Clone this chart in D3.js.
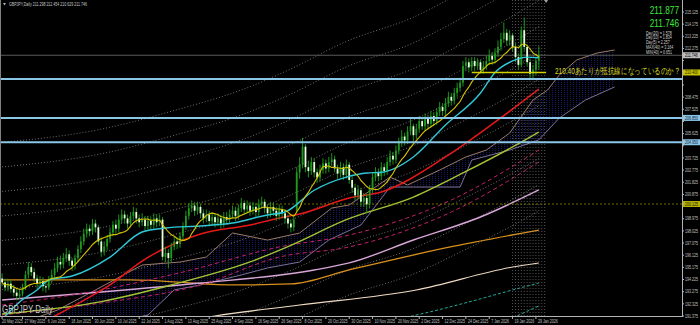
<!DOCTYPE html>
<html>
<head>
<meta charset="utf-8">
<script src="https://cdn.jsdelivr.net/npm/d3@7"></script>
<style>
  html, body { margin: 0; padding: 0; background: #000; }
  svg { display: block; }
  text { font-family: 'Liberation Sans', Arial, sans-serif; }
</style>
</head>
<body>
<svg width="700" height="325"></svg>
<script>
// daily candles, 16 May 2025 .. 30 Jan 2026 (bar index 0..184)
const opens = [
  194.30,194.00,193.60,193.90,193.50,193.20,192.95,193.10,193.60,194.60,
  195.20,194.80,194.30,193.90,194.10,193.70,193.60,194.20,194.60,195.10,
  195.60,195.40,195.90,196.20,195.70,195.30,195.90,196.60,197.20,197.80,
  198.20,198.00,198.60,198.30,197.20,196.40,196.80,197.40,197.90,198.50,
  198.20,198.90,199.30,199.00,198.60,199.20,199.50,199.00,198.70,198.90,
  198.40,198.80,198.50,199.00,198.70,198.90,196.00,196.30,195.90,196.80,
  197.20,197.00,197.60,198.40,199.20,199.80,200.00,199.60,199.90,199.40,
  199.00,199.30,198.80,199.10,198.70,199.00,198.60,199.10,198.90,199.30,
  199.60,199.20,199.80,200.20,199.70,200.00,199.60,199.90,199.50,200.10,
  200.30,199.80,199.40,199.90,199.60,199.20,199.70,199.40,199.00,198.60,
  198.30,199.60,202.60,203.20,204.60,203.00,202.70,203.40,202.60,202.20,
  202.80,203.30,202.90,203.40,203.60,202.90,202.50,203.00,202.40,203.20,
  202.00,201.40,200.80,201.20,200.30,200.60,200.10,201.30,202.20,202.60,
  202.30,203.00,202.70,203.40,203.90,203.60,204.30,204.90,205.40,205.10,
  205.80,206.20,205.50,206.00,206.60,206.20,206.80,206.40,207.00,206.60,
  207.30,207.70,207.40,208.00,208.50,208.20,208.80,209.20,209.60,210.90,
  211.20,210.80,211.30,210.90,211.20,210.60,210.90,211.30,211.70,211.40,
  211.90,212.40,213.00,213.50,212.90,213.30,212.40,211.60,211.00,213.70,
  212.40,211.20,210.30,210.60,211.298
];
const highs = [
  194.70,194.30,194.30,194.20,193.80,193.50,193.50,193.90,194.90,195.60,
  195.50,195.10,194.60,194.50,194.40,194.10,194.50,195.00,195.50,196.00,
  196.10,196.30,196.70,196.50,195.90,196.20,196.90,197.60,198.20,198.60,
  198.50,198.95,198.90,198.50,197.50,197.20,197.70,198.30,198.80,198.90,
  199.30,199.70,199.60,199.30,199.50,199.90,199.80,199.30,199.40,199.20,
  199.20,199.10,199.40,199.30,199.30,199.10,196.80,196.60,197.10,197.60,
  197.50,197.90,198.70,199.60,200.20,200.40,200.30,200.30,200.10,199.70,
  199.70,199.60,199.50,199.40,199.40,199.30,199.50,199.50,199.70,200.00,
  199.90,200.10,200.60,200.40,200.40,200.30,200.30,200.20,200.50,200.70,
  200.50,200.10,200.30,200.20,199.90,200.10,200.00,199.70,199.30,198.90,
  199.30,203.00,203.80,205.30,204.80,203.50,203.80,203.70,202.90,203.20,
  203.70,203.60,203.80,204.10,203.90,203.20,203.40,203.30,203.60,203.40,
  202.30,201.70,201.60,201.40,201.00,200.90,201.60,202.60,203.00,202.90,
  203.40,203.30,203.80,204.30,204.20,204.70,205.30,205.90,205.70,206.20,
  206.90,206.40,206.40,207.00,206.90,207.20,207.10,207.40,207.30,207.60,
  208.10,208.00,208.40,208.90,208.80,209.20,209.60,210.00,211.30,211.60,
  211.50,211.60,211.60,211.50,211.40,211.30,211.70,212.20,212.00,212.30,
  212.90,213.50,214.30,213.80,213.70,213.50,212.70,211.90,214.00,214.70,
  212.60,211.50,211.00,211.60,212.454
];
const lows = [
  193.70,193.30,193.30,193.20,192.90,192.60,192.70,192.90,193.40,194.30,
  194.50,194.00,193.50,193.60,193.30,193.20,193.40,193.90,194.30,194.80,
  195.00,195.10,195.60,195.30,194.90,195.00,195.60,196.30,196.90,197.50,
  197.60,197.70,197.90,196.90,196.00,196.10,196.50,197.10,197.60,197.80,
  197.90,198.60,198.60,198.20,198.30,198.90,198.60,198.30,198.40,198.00,
  198.10,198.10,198.20,198.30,198.40,195.70,195.60,195.10,195.60,196.50,
  196.60,196.70,197.30,198.10,198.90,199.50,199.20,199.30,199.00,198.60,
  198.70,198.40,198.50,198.30,198.40,198.20,198.30,198.50,198.60,199.00,
  198.80,198.90,199.50,199.30,199.40,199.20,199.30,199.10,199.20,199.80,
  199.40,199.00,199.10,199.20,198.80,198.90,199.00,198.60,198.20,197.90,
  198.00,199.40,202.10,202.90,202.60,202.20,202.40,202.20,201.80,201.90,
  202.50,202.50,202.60,203.10,202.60,202.10,202.20,202.00,202.10,201.70,
  201.00,200.40,200.50,199.90,199.90,199.40,199.80,201.00,201.90,201.90,
  202.00,202.30,202.40,203.10,203.20,203.30,204.00,204.60,204.70,204.80,
  205.50,205.00,205.20,205.70,205.90,205.90,206.00,206.10,206.20,206.30,
  207.00,207.00,207.10,207.70,207.80,207.90,208.50,208.90,209.30,210.50,
  210.40,210.50,210.50,210.60,210.30,210.30,210.60,211.00,211.00,211.10,
  211.60,212.10,212.70,212.50,212.50,212.00,211.20,210.60,210.80,212.10,
  210.90,209.80,209.90,210.20,210.629
];
const closes = [
  194.00,193.60,193.90,193.50,193.20,192.95,193.10,193.60,194.60,195.20,
  194.80,194.30,193.90,194.10,193.70,193.60,194.20,194.60,195.10,195.60,
  195.40,195.90,196.20,195.70,195.30,195.90,196.60,197.20,197.80,198.20,
  198.00,198.60,198.30,197.20,196.40,196.80,197.40,197.90,198.50,198.20,
  198.90,199.30,199.00,198.60,199.20,199.50,199.00,198.70,198.90,198.40,
  198.80,198.50,199.00,198.70,198.90,196.00,196.30,195.90,196.80,197.20,
  197.00,197.60,198.40,199.20,199.80,200.00,199.60,199.90,199.40,199.00,
  199.30,198.80,199.10,198.70,199.00,198.60,199.10,198.90,199.30,199.60,
  199.20,199.80,200.20,199.70,200.00,199.60,199.90,199.50,200.10,200.30,
  199.80,199.40,199.90,199.60,199.20,199.70,199.40,199.00,198.60,198.30,
  198.90,202.60,203.20,204.60,203.00,202.70,203.40,202.60,202.20,202.80,
  203.30,202.90,203.40,203.60,202.90,202.50,203.00,202.40,203.20,202.00,
  201.40,200.80,201.20,200.30,200.60,200.10,201.30,202.20,202.60,202.30,
  203.00,202.70,203.40,203.90,203.60,204.30,204.90,205.40,205.10,205.80,
  206.20,205.50,206.00,206.60,206.20,206.80,206.40,207.00,206.60,207.30,
  207.70,207.40,208.00,208.50,208.20,208.80,209.20,209.60,210.90,211.20,
  210.80,211.30,210.90,211.20,210.60,210.90,211.30,211.70,211.40,211.90,
  212.40,213.00,213.50,212.90,213.30,212.40,211.60,211.00,213.70,212.40,
  211.20,210.30,210.60,211.30,211.746
];

// indicator lines: [bar index, price]
const maCyan = [[0,191.1],[6,192.47],[12,193.41],[16,194.19],[24,194.5],[37,195.98],[48,197.94],[56,198.25],[68,198.41],[79,198.64],[91,199.27],[97,199.5],[107,201.2],[118,202.23],[125,202.55],[130,202.6],[141,203.8],[152,206.3],[164,208.8],[169,210.4],[175,211.3],[180,211.6],[184,211.55]];
const maRed = [[14,190.9],[28,192.6],[37,193.8],[48,195.67],[68,197.78],[85,198.48],[95,199.03],[102,199.34],[119,200.59],[130,201.06],[152,203.8],[170,206.69],[184,209.1]];
const maOlive = [[0,191.53],[34,192.5],[58,193.8],[85,195.6],[99,196.9],[118,198.9],[141,200.67],[158,202.55],[175,204.58],[184,205.75]];
const maPlum = [[0,192.63],[34,193.25],[68,193.95],[107,194.97],[119,195.52],[141,197.31],[164,199.11],[184,201.22]];
const maOrange = [[0,194.19],[44,194.19],[79,193.8],[99,193.88],[119,194.97],[152,196.69],[184,198.09]];
const maCream = [[61,190.9],[73,191.38],[102,192.23],[142,193.41],[175,195.2],[184,195.52]];
const tealUpper = [[130,190.9],[139,191.3],[160,192.47],[175,193.41],[184,193.95]];
const tealLower = [[172,190.9],[176.5,191.38],[184,192.16]];
const magentaA = [[0,192.23],[34,193.41],[62,194.81],[95,196.77],[119,197.7],[154,200.44],[184,204.34]];
const magentaB = [[0,191.45],[34,192.39],[68,193.8],[95,195.98],[119,196.77],[154,199.5],[184,203.41]];
const spanA = [[0,190.28],[19,191.84],[32,193.41],[48,195.36],[61,195.59],[70,195.98],[79,197.86],[91,197.31],[102,197.86],[113,199.81],[119,200.05],[133,202.23],[139,201.61],[150,202.78],[159,203.8],[166,204.34],[174,205.67],[182,208.25],[187,209.03],[191,210.2],[197,211.38],[204,211.92],[210,212.16]];
const spanB = [[0,189.89],[34,190.67],[50,191.45],[59,193.41],[68,193.8],[82,194.58],[91,195.13],[102,195.59],[112,197.31],[123,198.48],[133,201.45],[157,201.45],[161,203.56],[174,204.34],[184,205.13],[191,206.84],[200,208.25],[210,209.27]];
const envelopePct = [-3, -2, -1, 1, 2, 3, 4, 5, 6, 7]; // around the olive MA
const yellowPeriod = 10;

// horizontal objects
const blueLevels = [209.90, 206.85, 204.95];
const resistance = 210.40;
const resistanceSpan = [161, 186.5];
const prevLevel = 200.125;
const bid = 211.746;
const ask = 211.877;
const gridBars = [175, 186];

const priceTicks = [191.375,192.325,193.275,194.225,195.175,196.125,197.075,198.025,198.975,199.925,200.875,201.825,202.775,203.725,204.675,205.625,206.575,207.525,208.475,209.425,210.375,211.325,212.275,213.225,214.175,215.125];
const dateTickIdx = [0,7,15,23,31,39,47,55,63,71,79,87,95,103,111,119,127,135,143,151,159,167,175,183];
const dateTickLabels = ['20 May 2025','27 May 2025','6 Jun 2025','18 Jun 2025','30 Jun 2025','10 Jul 2025','22 Jul 2025','1 Aug 2025','13 Aug 2025','25 Aug 2025','4 Sep 2025','16 Sep 2025','26 Sep 2025','8 Oct 2025','20 Oct 2025','30 Oct 2025','10 Nov 2025','20 Nov 2025','2 Dec 2025','12 Dec 2025','24 Dec 2025','7 Jan 2026','19 Jan 2026','29 Jan 2026'];
const statLines = ['Day(20) = 1.578','Day(10) = 1.834','Day(5) = 2.257','MAX(40) = 3.164','MIN(40) = 0.651'];
const headerText = 'GBPJPY,Daily  211.298 212.454 210.629 211.746';

const svg = d3.select('svg');
const width = +svg.attr('width');
const height = +svg.attr('height');
const plotW = 682, plotH = 316;
const barStep = 2.917;
const squeeze = 0.72; // screenshot text is horizontally condensed

const xScale = d3.scaleLinear().domain([0, 184]).range([2.1, 2.1 + 184 * barStep]);
const yScale = d3.scaleLinear().domain([191.375, 216.0625]).range([plotH, 0]);

svg.append('rect').attr('width', width).attr('height', height).attr('fill', '#000');

const defs = svg.append('defs');
defs.append('clipPath').attr('id', 'plot-clip')
    .append('rect').attr('width', plotW).attr('height', plotH);
const hatch = defs.append('pattern')
    .attr('id', 'cloud-hatch')
    .attr('patternUnits', 'userSpaceOnUse')
    .attr('width', 3).attr('height', 2);
hatch.append('rect').attr('width', 1).attr('height', 1).attr('fill', '#181866');

const g = svg.append('g').attr('clip-path', 'url(#plot-clip)');

const kpLine = d3.line()
    .x((d) => xScale(d[0]))
    .y((d) => yScale(d[1]))
    .curve(d3.curveMonotoneX);

const drawLine = (pts, color, w, dash) => {
    g.append('path')
        .attr('d', kpLine(pts))
        .attr('fill', 'none')
        .attr('stroke', color)
        .attr('stroke-width', w)
        .attr('stroke-dasharray', dash || null);
};

// ichimoku cloud
const polyLine = d3.line().x((d) => xScale(d[0])).y((d) => yScale(d[1]));
g.append('path')
    .attr('d', polyLine(spanA.concat(spanB.slice().reverse())) + 'Z')
    .attr('fill', 'url(#cloud-hatch)');
g.append('path').attr('d', polyLine(spanA)).attr('fill', 'none').attr('stroke', '#9a7a68').attr('stroke-width', 1);
g.append('path').attr('d', polyLine(spanB)).attr('fill', 'none').attr('stroke', '#7e7098').attr('stroke-width', 1);

// envelopes
envelopePct.forEach((p) => {
    drawLine(maOlive.map((d) => [d[0], d[1] * (1 + p / 100)]), '#8a8a8a', 0.8, '1,2');
});

drawLine(maCream, '#f0dcc4', 1.1);
drawLine(maOrange, '#d8901c', 1.3);
drawLine(maPlum, '#d8a6d8', 1.4);
drawLine(tealUpper, '#22a896', 1, '3,2');
drawLine(tealLower, '#22a896', 1, '3,2');
drawLine(magentaA, '#c2206c', 1, '4,3');
drawLine(magentaB, '#c2206c', 1, '4,3');
drawLine(maOlive, '#a4c434', 1.4);
drawLine(maRed, '#e81818', 1.5);

// horizontal helper lines
g.append('line')
    .attr('x1', 0).attr('x2', plotW)
    .attr('y1', yScale(prevLevel)).attr('y2', yScale(prevLevel))
    .attr('stroke', '#8c8c00').attr('stroke-width', 0.8).attr('stroke-dasharray', '2,2');
g.append('line')
    .attr('x1', 0).attr('x2', plotW)
    .attr('y1', yScale(bid)).attr('y2', yScale(bid))
    .attr('stroke', '#707070').attr('stroke-width', 0.8);

// vertical dotted grid over the last bars
g.selectAll('line.vgrid')
    .data(d3.range(gridBars[0], gridBars[1] + 1))
    .enter().append('line')
    .attr('class', 'vgrid')
    .attr('x1', (d) => xScale(d)).attr('x2', (d) => xScale(d))
    .attr('y1', 0).attr('y2', plotH)
    .attr('stroke', '#8c8c8c').attr('stroke-width', 0.6).attr('stroke-dasharray', '1,2');

// candles
const bars = d3.range(closes.length);
g.selectAll('line.wick')
    .data(bars).enter().append('line')
    .attr('class', 'wick')
    .attr('x1', (i) => xScale(i)).attr('x2', (i) => xScale(i))
    .attr('y1', (i) => yScale(highs[i])).attr('y2', (i) => yScale(lows[i]))
    .attr('stroke', '#20a020').attr('stroke-width', 0.9);
g.selectAll('rect.body')
    .data(bars).enter().append('rect')
    .attr('class', 'body')
    .attr('x', (i) => xScale(i) - 0.9)
    .attr('width', 1.8)
    .attr('y', (i) => yScale(Math.max(opens[i], closes[i])))
    .attr('height', (i) => Math.max(0.8, Math.abs(yScale(opens[i]) - yScale(closes[i]))))
    .attr('fill', (i) => (closes[i] >= opens[i] ? '#1e9a1e' : '#e4ffd8'));

// fast averages
drawLine(maCyan, '#2ec8d8', 1.4);
const yellowMA = closes.map((c, i) => [i, d3.mean(closes.slice(Math.max(0, i - yellowPeriod + 1), i + 1))]);
drawLine(yellowMA, '#d8c400', 1.1);

// blue levels and resistance
blueLevels.forEach((p) => {
    g.append('line')
        .attr('x1', 0).attr('x2', plotW)
        .attr('y1', yScale(p)).attr('y2', yScale(p))
        .attr('stroke', '#8cc6e6').attr('stroke-width', 2);
});
g.append('line')
    .attr('x1', xScale(resistanceSpan[0])).attr('x2', xScale(resistanceSpan[1]))
    .attr('y1', yScale(resistance)).attr('y2', yScale(resistance))
    .attr('stroke', '#d4d000').attr('stroke-width', 1.3);

// frame
svg.append('line').attr('x1', 0.5).attr('x2', 0.5).attr('y1', 0).attr('y2', plotH).attr('stroke', '#808080');
svg.append('line').attr('x1', plotW + 0.5).attr('x2', plotW + 0.5).attr('y1', 0).attr('y2', plotH + 1).attr('stroke', '#b4b4b4');
svg.append('line').attr('x1', 0).attr('x2', plotW + 1).attr('y1', plotH + 0.5).attr('y2', plotH + 0.5).attr('stroke', '#b4b4b4');
svg.append('path')
    .attr('d', `M${xScale(186.5) - 2},0 L${xScale(186.5) + 2},0 L${xScale(186.5)},3 Z`)
    .attr('fill', '#a0a0a0');

const label = (x, y, str, size, color, anchor) => svg.append('text')
    .attr('transform', `translate(${x},${y}) scale(${squeeze},1)`)
    .attr('font-size', size)
    .attr('fill', color)
    .attr('text-anchor', anchor || 'start')
    .text(str);

// price axis
const boxed = blueLevels.concat([resistance, prevLevel, bid]);
priceTicks.forEach((p) => {
    const y = yScale(p);
    svg.append('line').attr('x1', plotW).attr('x2', plotW + 2).attr('y1', y).attr('y2', y).attr('stroke', '#b4b4b4');
    if (boxed.some((b) => Math.abs(yScale(b) - y) < 6.5)) return;
    label(plotW + 3, y + 1.7, p.toFixed(3), 5, '#c0c0c0');
});
const priceBox = (p, bg, fg) => {
    const y = yScale(p);
    svg.append('rect').attr('x', plotW + 1).attr('y', y - 3).attr('width', 17).attr('height', 6).attr('fill', bg);
    label(plotW + 3, y + 1.7, p.toFixed(3), 5, fg);
};
priceBox(blueLevels[1], '#8cc6e6', '#10243a');
priceBox(blueLevels[2], '#8cc6e6', '#10243a');
priceBox(resistance, '#c8c400', '#202000');
priceBox(prevLevel, '#b4b000', '#202000');
priceBox(bid, '#bcbcbc', '#000');

// time axis
dateTickIdx.forEach((idx, k) => {
    const x = xScale(idx);
    svg.append('line').attr('x1', x).attr('x2', x).attr('y1', plotH).attr('y2', plotH + 3).attr('stroke', '#b4b4b4');
    label(k === 0 ? 2 : x + 2, 322.5, dateTickLabels[k], 5, '#c0c0c0');
});

// texts
svg.append('path').attr('d', 'M3,3 L6,3 L4.5,5.5 Z').attr('fill', '#b0b0b0');
label(9, 6, headerText, 5, '#c8c8c8');
label(679, 14, ask.toFixed(3), 11.5, '#3ce63c', 'end');
label(679, 27, bid.toFixed(3), 11.5, '#3ce63c', 'end');
statLines.forEach((s, k) => label(646, 34.5 + k * 4.8, s, 5, '#d4d4d4'));
svg.append('text')
    .attr('transform', `translate(555,74) scale(${squeeze},1)`)
    .attr('font-family', "'Noto Sans CJK JP', sans-serif")
    .attr('font-size', 9)
    .attr('fill', '#dcdc1e')
    .text('210.40あたりが抵抗線になっているのか？');
label(2, 313, 'GBPJPY-Daily', 11, '#c8c8c8');
</script>
</body>
</html>
